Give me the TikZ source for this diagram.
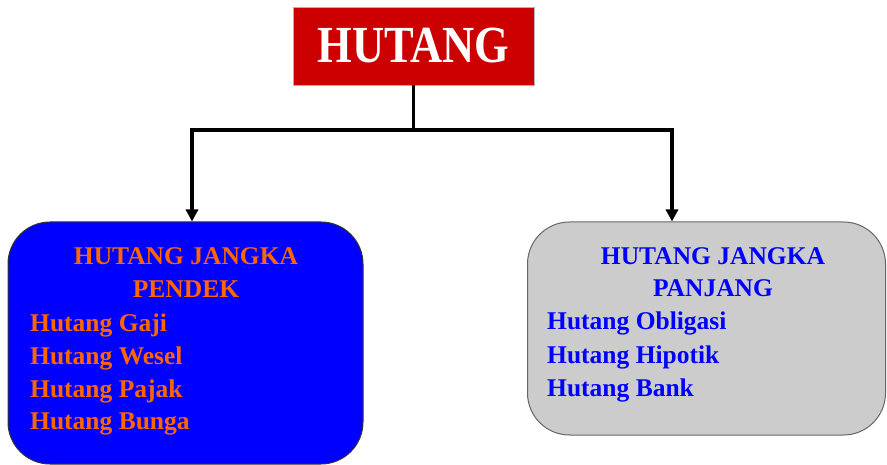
\documentclass[tikz,border=0pt]{standalone}
\usepackage{fontspec}
\setmainfont{Liberation Serif}
\usepackage{tikz}
\usetikzlibrary{positioning}
\usetikzlibrary{arrows.meta}
\usepackage{xcolor}
\definecolor{merah}{HTML}{CC0000}
\definecolor{biru}{HTML}{0000FF}
\definecolor{oranye}{HTML}{FF6600}
\definecolor{abu}{HTML}{CCCCCC}

\begin{document}
\begin{tikzpicture}[x=1pt,y=1pt,
  kotak/.style={rounded corners=42pt, line width=1pt, inner sep=0pt},
  ujung/.tip={Triangle[length=12pt,width=12pt]},
  garis/.style={black, line width=3.5pt, line join=miter},
  teks/.style={font=\bfseries\fontsize{25.5}{30}\selectfont, inner sep=0pt}]

\useasboundingbox (0,0) rectangle (887,-465);

% judul
\node[fill=merah, draw=gray!60, minimum width=241pt, minimum height=78pt, inner sep=0pt,
      text=white, font=\bfseries\fontsize{44.5}{50}\selectfont] (hutang) at (413.5,-46)
      {\scalebox{1}[1.17]{HUTANG}};

% kotak kiri
\node[kotak, fill=biru, draw=black!80, minimum width=355pt, minimum height=242pt] (pendek) at (185.5,-343) {};

\node[teks, text=oranye, anchor=base] (pendekA) at (186,-265) {HUTANG JANGKA};
\node[teks, text=oranye, anchor=base] (pendekB) at (186,-298) {PENDEK};

\node[teks, text=oranye, anchor=base west] (gaji)  at (30,-332) {Hutang Gaji};
\node[teks, text=oranye, anchor=base west] (wesel) at (30,-364.5) {Hutang Wesel};
\node[teks, text=oranye, anchor=base west] (pajak) at (30,-397) {Hutang Pajak};
\node[teks, text=oranye, anchor=base west] (bunga) at (30,-429.5) {Hutang Bunga};

% kotak kanan
\node[kotak, fill=abu, draw=black!60, minimum width=358pt, minimum height=213pt] (panjang) at (706.5,-328.5) {};

\node[teks, text=biru, anchor=base] (panjangA) at (713,-265) {HUTANG JANGKA};
\node[teks, text=biru, anchor=base] (panjangB) at (713,-297) {PANJANG};

\node[teks, text=biru, anchor=base west] (obligasi) at (547,-330) {Hutang Obligasi};
\node[teks, text=biru, anchor=base west] (hipotik)  at (547,-363) {Hutang Hipotik};
\node[teks, text=biru, anchor=base west] (bank)     at (547,-396) {Hutang Bank};

% garis
\coordinate (kiri) at (192,-130);
\coordinate (kanan) at (672,-130);

\draw[garis] (hutang.south) -- (hutang.south |- kiri);
\draw[garis, ujung-ujung] (kiri |- pendek.north) -- (kiri) -- (kanan) -- (kanan |- panjang.north);

\end{tikzpicture}
\end{document}
